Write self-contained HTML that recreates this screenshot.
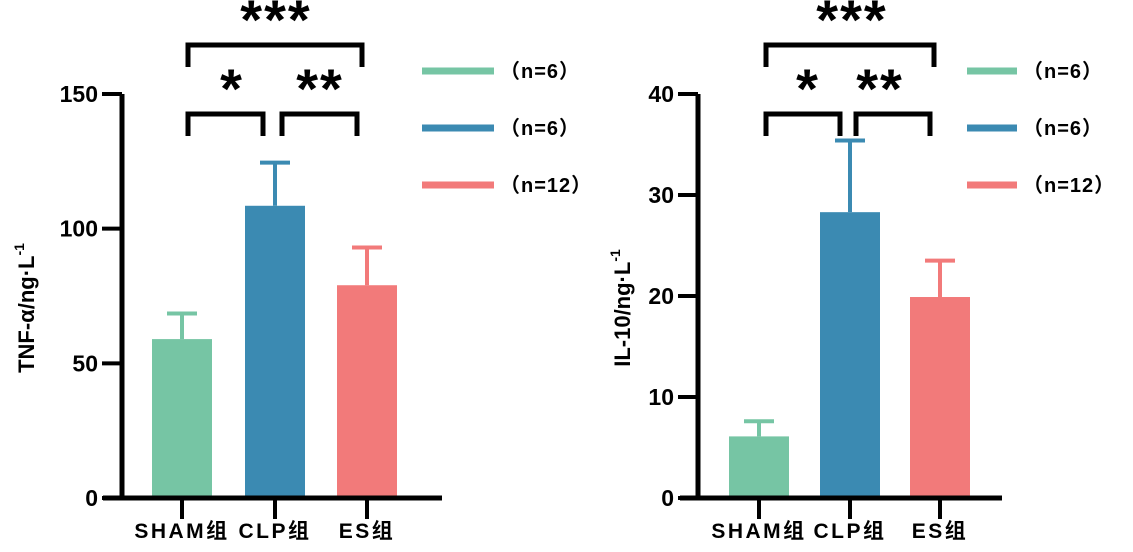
<!DOCTYPE html>
<html><head><meta charset="utf-8"><style>
body{margin:0;background:#fff;width:1133px;height:547px;overflow:hidden}
svg text{font-family:"Liberation Sans","Noto Sans CJK SC",sans-serif;font-weight:bold;fill:#000}
</style></head><body>
<svg id="c" width="1133" height="547" viewBox="0 0 1133 547"></svg>
<script>
const categories = ["SHAM组","CLP组","ES组"];
const legendLabels = ["（n=6）","（n=6）","（n=12）"];
const tnfValues = [59, 108.5, 79];
const tnfErrors = [68.5, 124.5, 93];
const tnfTicks = [0, 50, 100, 150];
const ilValues = [6.1, 28.3, 19.9];
const ilErrors = [7.6, 35.4, 23.5];
const ilTicks = [0, 10, 20, 30, 40];
const colors = ["#76c5a4","#3b8ab2","#f27a7a"];
const NS="http://www.w3.org/2000/svg";
const svg=document.getElementById('c');
function mk(tag,attrs,parent,txt){const e=document.createElementNS(NS,tag);for(const k in attrs)e.setAttribute(k,attrs[k]);if(txt!=null)e.textContent=txt;(parent||svg).appendChild(e);return e;}
function panel(o){
  const g=mk('g',{});
  
  
  const y=v=>o.y0-(v/o.max)*(o.y0-o.yTop);
  o.values.forEach((v,i)=>{
    const x0=o.bars[i], cx=x0+30;
    const b=mk('rect',{x:x0,y:y(v),width:60,height:o.y0-y(v),fill:colors[i]},g);
    
    
    const e=mk('path',{d:`M${cx} ${y(v)}V${y(o.errs[i])}M${cx-15} ${y(o.errs[i])}H${cx+15}`,stroke:colors[i],'stroke-width':4,fill:'none'},g);
    
    
    mk('line',{x1:cx,x2:cx,y1:o.y0,y2:o.y0+21,stroke:'#000','stroke-width':4},g);
    const t=mk('text',{x:cx,y:o.y0+40,'text-anchor':'middle','font-size':21,'letter-spacing':2.5},g,categories[i]);
    
    
  });
  const ax=mk('path',{d:`M${o.ax} ${o.yTop}V${o.y0}M${o.xL} ${o.y0}H${o.xR}`,stroke:'#000','stroke-width':5,fill:'none'},g);
  
  
  o.ticks.forEach(t=>{
    mk('line',{x1:o.ax-20,x2:o.ax,y1:y(t),y2:y(t),stroke:'#000','stroke-width':4},g);
    const l=mk('text',{x:o.ax-24,y:y(t)+8,'text-anchor':'end','font-size':23},g,t);
    
    
  });
  const yt=mk('text',{transform:`translate(${o.titleX},${o.titleY}) rotate(-90)`,'text-anchor':'middle','font-size':22},g);
  
  
  mk('tspan',{},yt,o.title);mk('tspan',{dy:-10,'font-size':14},yt,'-1');
  const br=(a,b,top,bot,s,sx)=>{
    const p=mk('path',{d:`M${a} ${bot}V${top}H${b}V${bot}`,stroke:'#000','stroke-width':5,fill:'none'},g);
    
    
    const t=mk('text',{x:sx,y:top-6,'text-anchor':'middle','font-size':56,'letter-spacing':2},g,s);
    
    
  };
  br(o.br[0],o.br[1],45,67,'***',o.star[0]);
  br(o.br[0],o.br[2],114,136,'*',o.star[1]);
  br(o.br[3],o.br[4],114,136,'**',o.star[2]);
  legendLabels.forEach((s,i)=>{
    const ly=71+i*57;
    const l=mk('line',{x1:o.lx,x2:o.lx+o.lw,y1:ly,y2:ly,stroke:colors[i],'stroke-width':7},g);
    
    
    const t=mk('text',{x:o.lx+o.lw+6,y:ly+7,'font-size':20,'font-weight':'normal','letter-spacing':1},g,s);
    
    
  });
}
panel({name:'tnf',values:tnfValues,errs:tnfErrors,ticks:tnfTicks,max:150,y0:498,yTop:94,ax:122,xL:103,xR:442,bars:[152,245,337],title:'TNF-α/ng·L',titleX:34,titleY:308,br:[188,362,263,282,357],star:[276,232,320],lx:422,lw:72});
panel({name:'il10',values:ilValues,errs:ilErrors,ticks:ilTicks,max:40,y0:498,yTop:94,ax:698,xL:680,xR:1002,bars:[729,820,910],title:'IL-10/ng·L',titleX:630,titleY:308,br:[766,934,840,856,930],star:[852,808,880],lx:967,lw:50});
</script>
</body></html>
